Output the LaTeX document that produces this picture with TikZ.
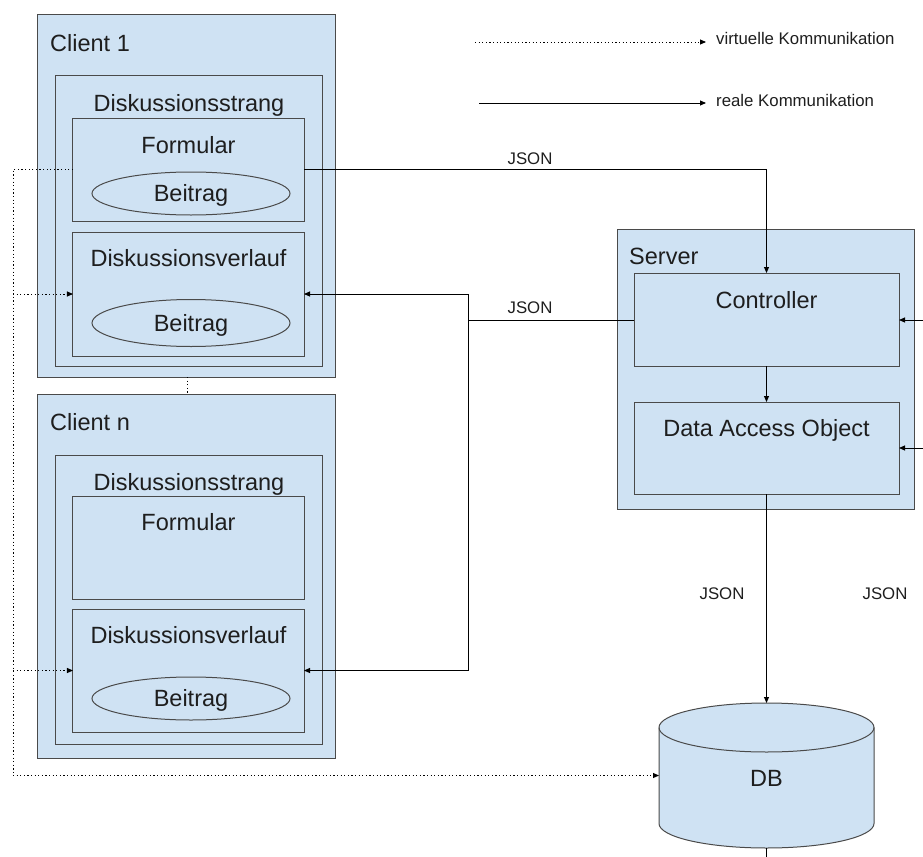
\documentclass[tikz,border=0pt]{standalone}
\usepackage{fontspec}
\setmainfont{Liberation Sans}
\usetikzlibrary{shapes.geometric,arrows.meta}
\definecolor{boxfill}{HTML}{CFE2F3}
\definecolor{linec}{HTML}{4A4A4A}
\definecolor{txtc}{HTML}{1E1E1E}
\begin{document}
\begin{tikzpicture}[x=1bp,y=-1bp,
  box/.style={draw=linec, fill=boxfill, line width=1bp, inner sep=0pt, outer sep=0pt},
  big/.style={font=\fontsize{23.5bp}{28bp}\selectfont, text=txtc, inner sep=0pt, text height=16.8bp, text depth=0pt},
  small/.style={font=\fontsize{16.8bp}{20bp}\selectfont, text=txtc, inner sep=0pt, text height=12bp, text depth=0pt},
  real/.style={draw=black, line width=0.9bp},
  virt/.style={draw=black, line width=0.9bp, dash pattern=on 1.2bp off 2.4bp},
  tip/.style={-{Triangle[length=6bp,width=5bp]}}
]
\useasboundingbox (0,0) rectangle (923,857);

% Client 1
\node[box, minimum width=297bp, minimum height=362bp] (c1) at (186.5,196) {};
\node[big, anchor=west] (c1t) at (50,43) {Client 1};
\node[box, minimum width=266bp, minimum height=290bp] (s1) at (189,221) {};
\node[big] (s1t) at (189,103) {Diskussionsstrang};
\node[box, minimum width=231bp, minimum height=103bp] (f1) at (188.5,169.5) {};
\node[big] (f1t) at (188.5,145) {Formular};
\node[box, ellipse, minimum width=198bp, minimum height=43bp, big] (b1) at (191,193.5) {Beitrag};
\node[box, minimum width=231bp, minimum height=124bp] (v1) at (188.5,294) {};
\node[big] (v1t) at (188.5,258) {Diskussionsverlauf};
\node[box, ellipse, minimum width=198bp, minimum height=47bp, big] (b1v) at (191,323) {Beitrag};

% Client n
\node[box, minimum width=297bp, minimum height=364bp] (cn) at (186.5,576) {};
\node[big, anchor=west] (cnt) at (50,422) {Client n};
\node[box, minimum width=266bp, minimum height=289bp] (sn) at (189,599.5) {};
\node[big] (snt) at (189,482) {Diskussionsstrang};
\node[box, minimum width=231bp, minimum height=103bp] (fn) at (188.5,547.5) {};
\node[big] (fnt) at (188.5,522) {Formular};
\node[box, minimum width=231bp, minimum height=123bp] (vn) at (188.5,670.5) {};
\node[big] (vnt) at (188.5,635) {Diskussionsverlauf};
\node[box, ellipse, minimum width=198bp, minimum height=43bp, big] (bn) at (191,698.5) {Beitrag};

% Server
\node[box, minimum width=297bp, minimum height=280bp] (srv) at (765.5,369) {};
\node[big, anchor=west] (srvt) at (629,256) {Server};
\node[box, minimum width=265bp, minimum height=93bp] (ctrl) at (766.5,319.5) {};
\node[big] (ctrlt) at (766.5,300) {Controller};
\node[box, minimum width=265bp, minimum height=92bp] (dao) at (766.5,448) {};
\node[big] (daot) at (766.5,428) {Data Access Object};

% DB (cylinder drawn around an invisible frame node)
\node[inner sep=0pt, outer sep=0pt, minimum width=215bp, minimum height=145bp] (db) at (766.5,775.5) {};
\fill[boxfill] (db.north west) ++(0,24.5) -- ++(0,96)
  arc[start angle=180, end angle=360, x radius=107.5bp, y radius=24.5bp] -- ++(0,-96)
  arc[start angle=0, end angle=180, x radius=107.5bp, y radius=24.5bp] -- cycle;
\draw[draw=linec, line width=1bp] (db.north west) ++(0,24.5) -- ++(0,96)
  arc[start angle=180, end angle=360, x radius=107.5bp, y radius=24.5bp] -- ++(0,-96)
  arc[start angle=0, end angle=180, x radius=107.5bp, y radius=24.5bp];
\draw[draw=linec, line width=1bp] (db.north west) ++(0,24.5)
  arc[start angle=180, end angle=360, x radius=107.5bp, y radius=24.5bp];
\node[big] (dbt) at (766.5,778) {DB};

% Legend
\coordinate (lv1) at (475,42);
\coordinate (lv2) at (706,42);
\coordinate (lr1) at (479,103);
\coordinate (lr2) at (706,103);
\draw[virt, tip] (lv1) -- (lv2);
\draw[real, tip] (lr1) -- (lr2);
\node[small, anchor=west] (lvt) at (716,38) {virtuelle Kommunikation};
\node[small, anchor=west] (lrt) at (716,100) {reale Kommunikation};

% JSON labels
\node[small] (j1) at (530,158) {JSON};
\node[small] (j2) at (530,307) {JSON};
\node[small] (j3) at (722,593) {JSON};
\node[small] (j4) at (885,593) {JSON};

% real communication
\draw[real, tip] (f1.east) -- (ctrl.north |- f1.east) -- (ctrl.north);
\coordinate (jn) at (468,320);
\draw[real] (ctrl.west |- jn) -- (jn);
\draw[real, tip] (jn) -- (jn |- v1.east) -- (v1.east);
\draw[real, tip] (jn) -- (jn |- vn.east) -- (vn.east);
\draw[real, tip] (ctrl.south) -- (dao.north);
\draw[real, tip] (dao.south) -- (db.north);
\coordinate (rc) at (923,320);
\coordinate (rd) at (923,448);
\draw[real, tip] (rc) -- (ctrl.east |- rc);
\draw[real, tip] (rd) -- (dao.east |- rd);
\coordinate (dbo) at (766.5,857);
\draw[real] (db.south) -- (dbo);

% virtual communication
\coordinate (vl) at (13,169.5);
\coordinate (vb) at (13,775.5);
\draw[virt, tip] (f1.west) -- (vl) -- (vb) -- (db.west);
\draw[virt, tip] (vl |- v1.west) -- (v1.west);
\draw[virt, tip] (vl |- vn.west) -- (vn.west);
\draw[virt] (c1.south -| 187,0) -- (cn.north -| 187,0);
\end{tikzpicture}
\end{document}
